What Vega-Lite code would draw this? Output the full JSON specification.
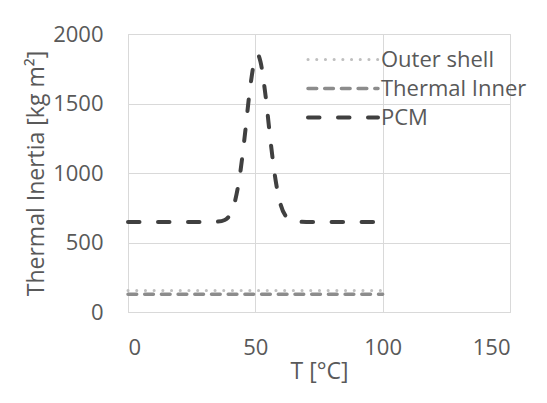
{
  "$schema": "https://vega.github.io/schema/vega-lite/v6.json",
  "width": 382,
  "height": 278,
  "autosize": "none",
  "padding": {"left": 128, "top": 34, "right": 37, "bottom": 91},
  "background": "white",
  "data": {
    "values": [
      {"T": 0, "I": 155, "s": "Outer shell"},
      {"T": 100, "I": 155, "s": "Outer shell"},
      {"T": 0, "I": 128, "s": "Thermal Inner"},
      {"T": 100, "I": 128, "s": "Thermal Inner"},
      {"T": 0, "I": 648, "s": "PCM"},
      {"T": 10, "I": 648, "s": "PCM"},
      {"T": 20, "I": 648, "s": "PCM"},
      {"T": 30, "I": 648, "s": "PCM"},
      {"T": 35, "I": 650, "s": "PCM"},
      {"T": 38, "I": 662, "s": "PCM"},
      {"T": 40, "I": 699, "s": "PCM"},
      {"T": 42, "I": 796, "s": "PCM"},
      {"T": 44, "I": 992, "s": "PCM"},
      {"T": 46, "I": 1291, "s": "PCM"},
      {"T": 48, "I": 1619, "s": "PCM"},
      {"T": 50, "I": 1828, "s": "PCM"},
      {"T": 51, "I": 1850, "s": "PCM"},
      {"T": 52, "I": 1802, "s": "PCM"},
      {"T": 54, "I": 1558, "s": "PCM"},
      {"T": 56, "I": 1225, "s": "PCM"},
      {"T": 58, "I": 943, "s": "PCM"},
      {"T": 60, "I": 769, "s": "PCM"},
      {"T": 62, "I": 688, "s": "PCM"},
      {"T": 64, "I": 659, "s": "PCM"},
      {"T": 66, "I": 651, "s": "PCM"},
      {"T": 70, "I": 648, "s": "PCM"},
      {"T": 80, "I": 648, "s": "PCM"},
      {"T": 90, "I": 648, "s": "PCM"},
      {"T": 100, "I": 648, "s": "PCM"}
    ]
  },
  "mark": {"type": "line", "interpolate": "monotone", "strokeCap": "round"},
  "encoding": {
    "x": {
      "field": "T", "type": "quantitative",
      "scale": {"domain": [0, 150], "nice": false},
      "axis": {"values": [0, 50, 100, 150], "format": "d", "title": "T [°C]"}
    },
    "y": {
      "field": "I", "type": "quantitative",
      "scale": {"domain": [0, 2000], "nice": false},
      "axis": {"values": [0, 500, 1000, 1500, 2000], "format": "d", "title": "Thermal Inertia [kg m²]"}
    },
    "color": {
      "field": "s", "type": "nominal",
      "scale": {"domain": ["Outer shell", "Thermal Inner", "PCM"], "range": ["#bfbfbf", "#8c8c8c", "#404040"]},
      "legend": {
        "orient": "none", "legendX": 178, "legendY": 11,
        "title": null, "symbolType": "stroke", "symbolSize": 4900,
        "clipHeight": 29, "rowPadding": 0,
        "labelFontSize": 22, "labelColor": "#595959", "labelFont": "Open Sans",
        "labelOffset": 1,
        "encode": {"symbols": {"update": {"strokeCap": {"value": "round"}}}}
      }
    },
    "strokeDash": {
      "field": "s", "type": "nominal",
      "scale": {"domain": ["Outer shell", "Thermal Inner", "PCM"], "range": [[0.1, 8.6], [8.7, 8], [11.5, 18.5]]},
      "legend": null
    },
    "strokeWidth": {
      "field": "s", "type": "nominal",
      "scale": {"domain": ["Outer shell", "Thermal Inner", "PCM"], "range": [3, 4, 4.5]},
      "legend": null
    }
  },
  "config": {
    "view": {"stroke": "#d9d9d9"},
    "font": "Open Sans",
    "axis": {
      "domainColor": "#d9d9d9", "gridColor": "#d9d9d9", "ticks": false,
      "labelFontSize": 22, "labelColor": "#595959", "labelFont": "Open Sans",
      "titleFontSize": 23, "titleColor": "#595959", "titleFont": "Open Sans", "titleFontWeight": "normal",
      "labelPadding": 25
    },
    "axisX": {"titlePadding": 2},
    "axisY": {"titlePadding": 4}
  }
}
